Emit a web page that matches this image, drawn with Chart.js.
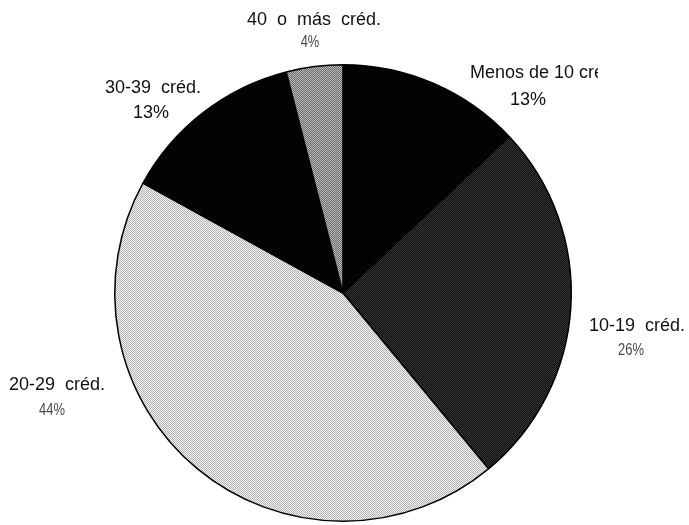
<!DOCTYPE html>
<html>
<head>
    <title>Créditos</title>
    <script src="https://cdn.jsdelivr.net/npm/chart.js"></script>
    <style>
        body { margin: 0; background: #fff; }
        .wrap { width: 689px; height: 525px; }
    </style>
</head>
<body>
    <div class="wrap">
        <canvas id="pieChart" width="689" height="525"></canvas>
    </div>

    <script>
        // data (clockwise from 12 o'clock)
        const categories = ['Menos de 10 créd.', '10-19  créd.', '20-29  créd.', '30-39  créd.', '40  o  más  créd.'];
        const percents = [13, 26, 44, 13, 4];

        // label placement (text anchor, px) - layout only
        const labelPos = [
            { x: 470, y: 78, align: 'left', px: 528, py: 105, narrow: false, clipX: 598 },
            { x: 637, y: 331, align: 'center', px: 631, py: 355, narrow: true },
            { x: 57, y: 390, align: 'center', px: 52, py: 415, narrow: true },
            { x: 153, y: 93, align: 'center', px: 151, py: 118, narrow: false },
            { x: 314, y: 25, align: 'center', px: 310, py: 47, narrow: true }
        ];

        // simple halftone look for the scanned fills
        function halftone(a, b) {
            const c = document.createElement('canvas');
            c.width = 2; c.height = 2;
            const g = c.getContext('2d');
            g.fillStyle = a; g.fillRect(0, 0, 2, 2);
            g.fillStyle = b; g.fillRect(0, 0, 1, 1); g.fillRect(1, 1, 1, 1);
            return g.createPattern(c, 'repeat');
        }

        const fills = [
            '#030303',
            halftone('#0c0c0c', '#3a3a3a'),
            halftone('#f2f2f2', '#b4b4b4'),
            '#030303',
            halftone('#6c6c6c', '#b8b8b8')
        ];

        const labelPlugin = {
            id: 'sliceLabels',
            afterDraw(chart) {
                const ctx = chart.ctx;
                ctx.textBaseline = 'alphabetic';
                categories.forEach((name, i) => {
                    const p = labelPos[i];
                    ctx.save();
                    // the top-right label is cut off in the original
                    if (p.clipX) {
                        ctx.beginPath();
                        ctx.rect(0, 0, p.clipX, chart.height);
                        ctx.clip();
                    }
                    ctx.fillStyle = '#111';
                    ctx.font = '18px "Liberation Sans", Arial, sans-serif';
                    ctx.textAlign = p.align;
                    ctx.fillText(name, p.x, p.y);
                    ctx.restore();

                    const txt = percents[i] + '%';
                    ctx.save();
                    ctx.textAlign = 'center';
                    if (p.narrow) {
                        ctx.fillStyle = '#4a4a4a';
                        ctx.font = '17px "Liberation Sans", Arial, sans-serif';
                        ctx.translate(p.px, p.py);
                        ctx.scale(0.76, 1);
                        ctx.fillText(txt, 0, 0);
                    } else {
                        ctx.fillStyle = '#111';
                        ctx.font = '18px "Liberation Sans", Arial, sans-serif';
                        ctx.fillText(txt, p.px, p.py);
                    }
                    ctx.restore();
                });
            }
        };

        new Chart(document.getElementById('pieChart'), {
            type: 'pie',
            data: {
                labels: categories,
                datasets: [{
                    data: percents,
                    backgroundColor: fills,
                    borderColor: '#000',
                    borderWidth: 1.5
                }]
            },
            options: {
                responsive: false,
                animation: false,
                layout: { padding: { top: 64, bottom: 3, left: 0, right: 3 } },
                plugins: {
                    legend: { display: false },
                    tooltip: { enabled: false }
                }
            },
            plugins: [labelPlugin]
        });
    </script>
</body>
</html>
